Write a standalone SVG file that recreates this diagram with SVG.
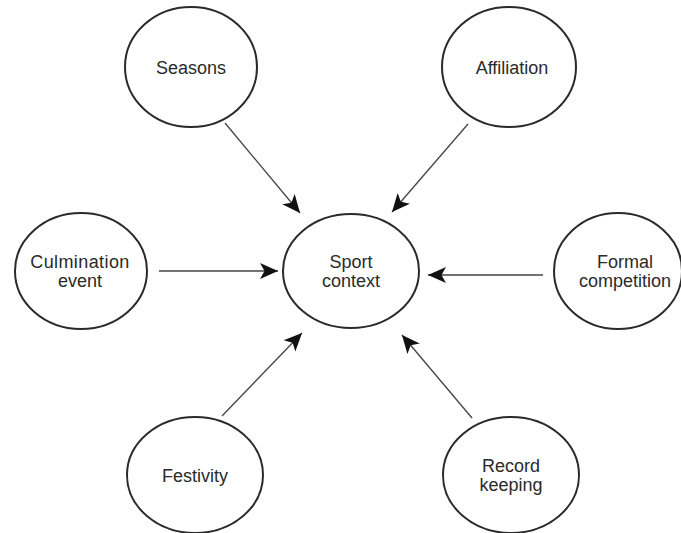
<svg xmlns="http://www.w3.org/2000/svg" width="681" height="533" viewBox="0 0 681 533">
<style>
.node ellipse{fill:#fff;stroke:#2a2a2a;stroke-width:2}
.node text{font-family:"Liberation Sans",Arial,sans-serif;font-size:18px;fill:#2a2a2a;text-anchor:middle}
.edges line{stroke:#444;stroke-width:1.3;marker-end:url(#ah)}
</style>
<defs>
<marker id="ah" viewBox="0 0 10 10" refX="10" refY="5" markerWidth="18" markerHeight="18" markerUnits="userSpaceOnUse" orient="auto">
<path d="M0,0.5 L10,5 L0,9.5 L2.5,5 z" fill="#111"/>
</marker>
</defs>
<rect width="681" height="533" fill="#fff"/>
<g class="edges">
<line x1="225" y1="123" x2="300" y2="213"/>
<line x1="468" y1="124" x2="392" y2="212"/>
<line x1="159" y1="271" x2="278" y2="271"/>
<line x1="543" y1="275" x2="428" y2="275"/>
<line x1="222" y1="416" x2="302" y2="333"/>
<line x1="472" y1="418" x2="402" y2="335"/>
</g>
<g id="seasons" class="node"><ellipse cx="191" cy="67" rx="66" ry="60"/><text x="191" y="74">Seasons</text></g>
<g id="affiliation" class="node"><ellipse cx="509" cy="67" rx="67" ry="60"/><text x="512" y="74">Affiliation</text></g>
<g id="culmination" class="node"><ellipse cx="81" cy="271" rx="66" ry="58"/><text x="80" y="268" letter-spacing="0.4">Culmination</text><text x="80" y="287">event</text></g>
<g id="sport" class="node"><ellipse cx="351" cy="271" rx="68" ry="57"/><text x="351" y="268">Sport</text><text x="351" y="287">context</text></g>
<g id="formal" class="node"><ellipse cx="618" cy="271" rx="64" ry="58"/><text x="625" y="268">Formal</text><text x="625" y="287">competition</text></g>
<g id="festivity" class="node"><ellipse cx="195" cy="475" rx="68" ry="58"/><text x="195" y="482">Festivity</text></g>
<g id="record" class="node"><ellipse cx="511" cy="475" rx="68" ry="58"/><text x="511" y="472">Record</text><text x="511" y="491">keeping</text></g>
</svg>
